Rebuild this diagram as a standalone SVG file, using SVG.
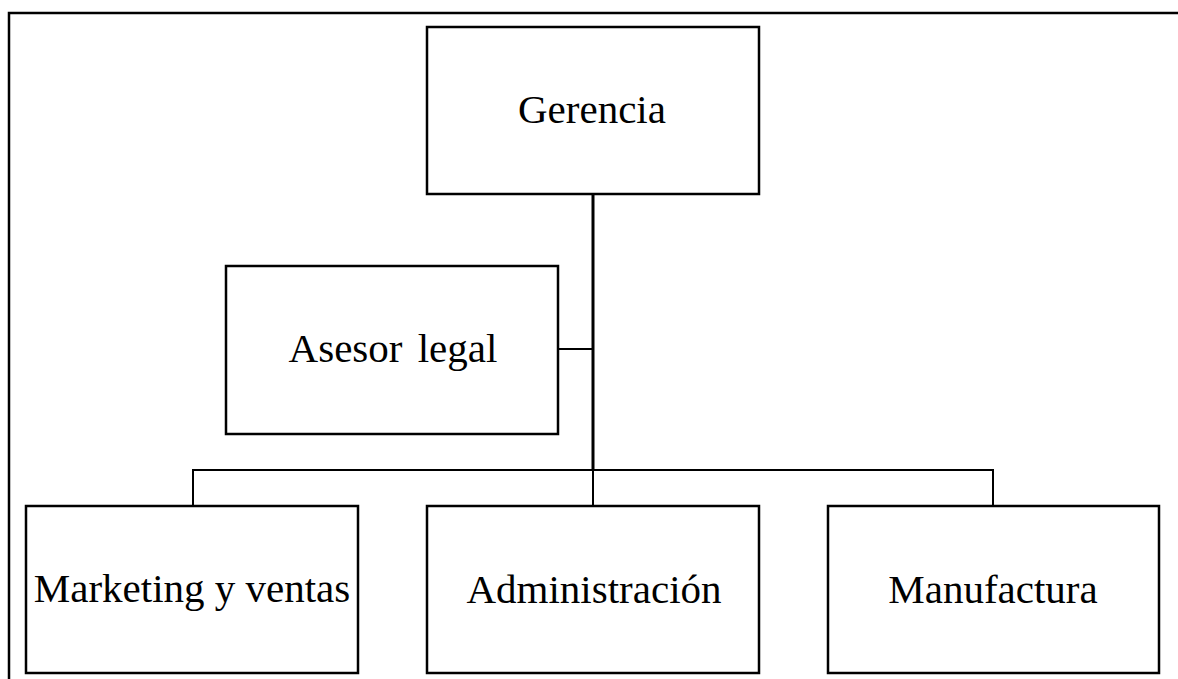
<svg xmlns="http://www.w3.org/2000/svg" width="1178" height="679" viewBox="0 0 1178 679">
  <style>
    .box { fill: #ffffff; stroke: #000000; stroke-width: 2.5; }
    .label { font-family: "Liberation Serif", "Times New Roman", serif; font-size: 41px; fill: #000000; text-anchor: middle; }
    .trunk { fill: none; stroke: #000000; stroke-width: 3; }
    .link { fill: none; stroke: #000000; stroke-width: 2; }
  </style>
  <rect x="0" y="0" width="1178" height="679" fill="#ffffff"/>
  <!-- page frame -->
  <rect x="9" y="13" width="1200" height="700" fill="none" stroke="#000000" stroke-width="2.5"/>

  <g id="connectors">
    <line class="trunk" x1="593" y1="194" x2="593" y2="470"/>
    <line class="link" x1="558" y1="349" x2="593" y2="349"/>
    <polyline class="link" points="193,506 193,470 993,470 993,506"/>
    <line class="link" x1="593" y1="470" x2="593" y2="506"/>
  </g>

  <g id="gerencia">
    <rect class="box" x="427" y="27" width="332" height="167"/>
    <text class="label" x="592" y="123">Gerencia</text>
  </g>

  <g id="asesor-legal">
    <rect class="box" x="226" y="266" width="332" height="168"/>
    <text class="label" x="393" y="362" word-spacing="5">Asesor legal</text>
  </g>

  <g id="marketing-ventas">
    <rect class="box" x="26" y="506" width="332" height="167"/>
    <text class="label" x="192" y="602">Marketing y ventas</text>
  </g>

  <g id="administracion">
    <rect class="box" x="427" y="506" width="332" height="167"/>
    <text class="label" x="594" y="603">Administración</text>
  </g>

  <g id="manufactura">
    <rect class="box" x="828" y="506" width="331" height="167"/>
    <text class="label" x="993" y="603">Manufactura</text>
  </g>
</svg>
